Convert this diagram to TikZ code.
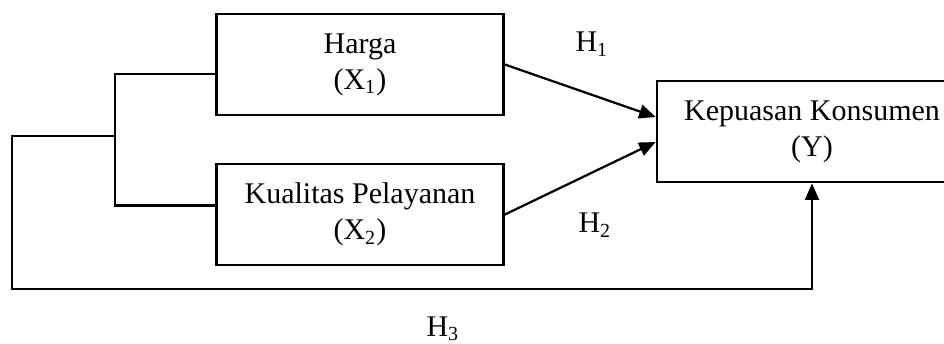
\documentclass[tikz,border=0pt]{standalone}
\usepackage{fontspec}
\setmainfont{Liberation Serif}
\usepackage{tikz}
\usetikzlibrary{arrows.meta,positioning,calc}

\begin{document}
\begin{tikzpicture}[x=0.4pt, y=-0.4pt,
  var/.style={draw, line width=1.1pt, align=center, font=\fontsize{12}{14.5}\selectfont,
    minimum width=114.8pt, minimum height=40.4pt, inner sep=0pt},
  link/.style={line width=0.9pt},
  arrow/.style={link, -{Triangle[length=6.6pt, width=5.6pt]}},
  hyp/.style={font=\fontsize{12}{14.5}\selectfont, inner sep=0pt}]
\useasboundingbox (0,0) rectangle (944,343);

% Variables
\node[var] (X1) at (360,64.5) {Harga\\(X\textsubscript{1})};
\node[var] (X2) at (360,214.5) {Kualitas Pelayanan\\(X\textsubscript{2})};
\node[var, minimum width=124pt] (Y) at (812,131.5) {Kepuasan Konsumen\\(Y)};

% Partial effects
\draw[arrow] (X1.east) -- ($(Y.west)+(0,-14.5)$);
\draw[arrow] (X2.east) -- ($(Y.west)+(0,10.5)$);

% Joint effect
\coordinate (fork) at (115,136);
\coordinate (corner) at (12,289);
\draw[link] ($(X1.west)+(0,9.5)$) -| (fork) |- ($(X2.west)+(0,-9)$);
\draw[arrow] (fork) -| (corner) -| (Y.south);

% Hypotheses
\node[hyp] (H1) at (592,44) {H\textsubscript{1}};
\node[hyp] (H2) at (595,225) {H\textsubscript{2}};
\node[hyp] (H3) at (443,329) {H\textsubscript{3}};

\end{tikzpicture}
\end{document}
